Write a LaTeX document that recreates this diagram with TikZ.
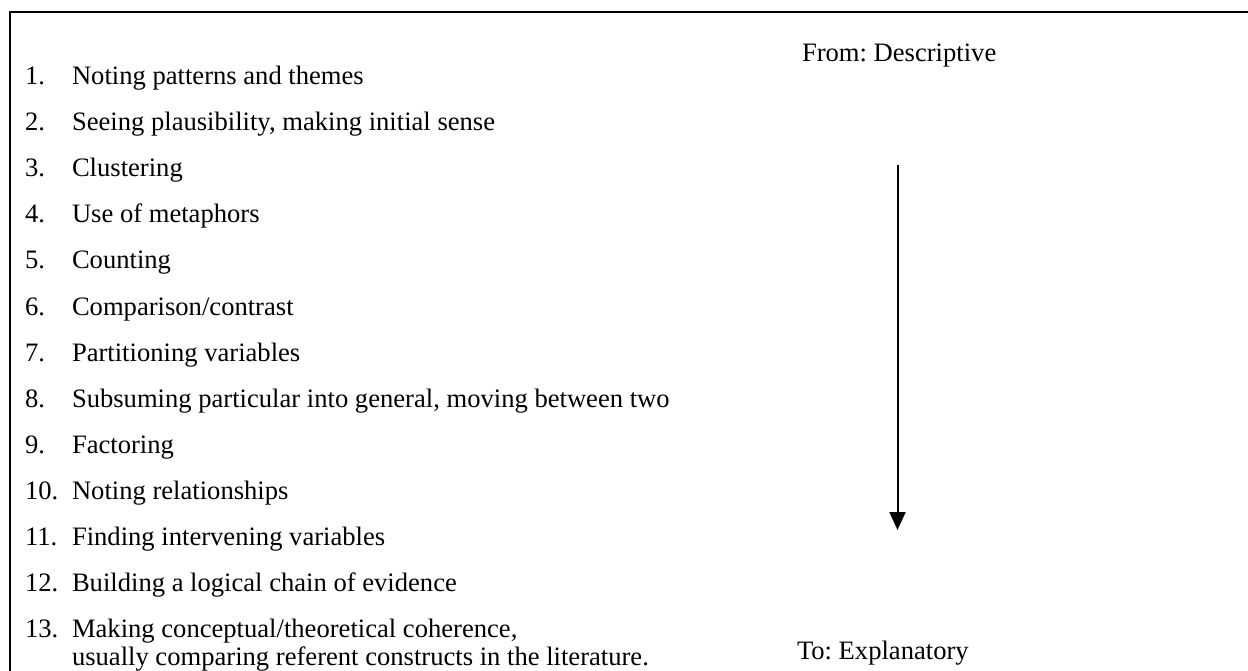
\documentclass[tikz,border=0pt]{standalone}
\usepackage{fontspec}
\setmainfont{Liberation Serif}
\usetikzlibrary{arrows.meta}
\frenchspacing
\begin{document}
\begin{tikzpicture}[x=1pt,y=-1pt,
  txt/.style={anchor=base west,inner sep=0pt,outer sep=0pt,font=\fontsize{26.6}{30}\selectfont},
  frame/.style={line width=2pt,draw=black}]
\useasboundingbox (0,0) rectangle (1248,671);
\clip (0,0) rectangle (1248,671);
% outer frame (runs past the right and bottom edges)
\draw[frame] (9.5,12) rectangle (1300,720);
% numbered list
\foreach \n/\t [count=\i from 0] in {
  1./Noting patterns and themes,
  2./{Seeing plausibility, making initial sense},
  3./Clustering,
  4./Use of metaphors,
  5./Counting,
  6./Comparison\slash contrast,
  7./Partitioning variables,
  8./{Subsuming particular into general, moving between two},
  9./Factoring,
  10./Noting relationships,
  11./Finding intervening variables,
  12./Building a logical chain of evidence,
  13./{Making conceptual\slash theoretical coherence,}}{
  \node[txt] (num\n) at (25,85+46*\i) {\n};
  \node[txt] (item\n) at (72,85+46*\i) {\t};
}
\node[txt] (item13b) at (72,665) {usually comparing referent constructs in the literature.};
% direction of analysis
\node[txt] (from) at (802,62) {From: Descriptive};
\node[txt] (to) at (797,659) {To: Explanatory};
\coordinate (atop) at (897.5,165);
\coordinate (abot) at (897.5,530);
\draw[line width=2pt,-{Triangle[width=16pt,length=18pt]}] (atop) -- (abot);
\end{tikzpicture}
\end{document}
